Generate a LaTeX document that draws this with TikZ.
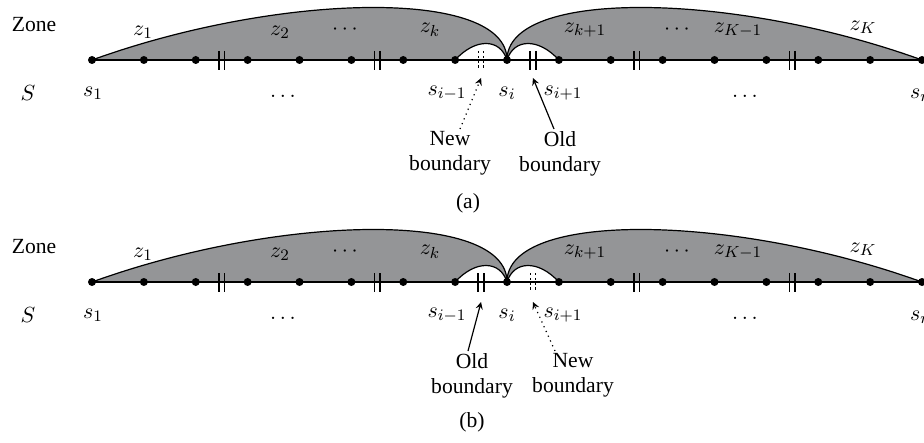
\documentclass[tikz,border=0pt]{standalone}
\usepackage{fontspec}
\setmainfont{Liberation Serif}
\usetikzlibrary{arrows}
\definecolor{zonegray}{RGB}{148,149,151}

\begin{document}
\begin{tikzpicture}[x=0.5pt,y=-0.5pt,font=\fontsize{10.8}{12.5}\selectfont,
    zoneline/.style={line width=0.6pt},
    note/.style={align=center,anchor=north,inner sep=1pt},
    oldmark/.pic={\draw[line width=0.8pt] (-2.8,-9) -- (-2.8,10) (2.8,-9) -- (2.8,10);},
    newmark/.pic={\draw[line width=0.6pt,dash pattern=on 1.2pt off 1.2pt] (-2.8,-9) -- (-2.8,10) (2.8,-9) -- (2.8,10);}]
\useasboundingbox (0,0) rectangle (924,443);
% both panels share the zones, the points and the labels
\foreach \p/\dy/\om/\nm in {a/0/8/7,b/222/7/8}{
  \begin{scope}[shift={(0,\dy)}]
    \foreach \k in {0,...,16}
      \coordinate (s\p\k) at ({92+51.875*\k},60);
    \foreach \k in {2,5,7,8,10,13}
      \coordinate (m\p\k) at ({92+51.875*(\k+0.5)},60);
    % zones
    \filldraw[zoneline,fill=zonegray] (s\p0) .. controls +(188,-68) and +(0,-72) .. (s\p8)
        .. controls +(0,-72) and +(-188,-68) .. (s\p16) -- cycle;
    \filldraw[zoneline,fill=white] (s\p7) .. controls +(20,-22) and +(-7,-22) .. (s\p8)
        .. controls +(7,-22) and +(-20,-22) .. (s\p9) -- cycle;
    \draw[zoneline] (s\p0) -- (s\p16);
    \foreach \k in {0,...,16}
      \fill (s\p\k) circle (2pt);
    % boundaries
    \foreach \k in {2,5,10,13,\om}
      \pic at (m\p\k) {oldmark};
    \pic at (m\p\nm) {newmark};
    % labels
    \node (zone\p) at (34,25) {Zone};
    \node (set\p) at (28,93) {$S$};
    \node (zfirst\p) at (143,32) {$z_1$};
    \node (zsecond\p) at (280,32) {$z_2$};
    \node (zdotsl\p) at (345,30) {$\cdots$};
    \node (zk\p) at (430,30) {$z_k$};
    \node (zkk\p) at (585,30) {$z_{k+1}$};
    \node (zdotsr\p) at (677,30) {$\cdots$};
    \node (zKm\p) at (738,30) {$z_{K-1}$};
    \node (zK\p) at (863,27) {$z_K$};
    \node (sfirst\p) at (93,93) {$s_1$};
    \node (sdotsl\p) at (283,96) {$\ldots$};
    \node (sprev\p) at (447,93) {$s_{i-1}$};
    \node (scur\p) at (507,93) {$s_i$};
    \node (snext\p) at (563,93) {$s_{i+1}$};
    \node (sdotsr\p) at (745,96) {$\ldots$};
    \node (slast\p) at (921,95) {$s_n$};
  \end{scope}
}
% panel (a)
\node[note] (newa) at (450,129) {New\\boundary};
\node[note] (olda) at (560,129) {Old\\boundary};
\node (capa) at (468,203) {(a)};
\draw[line width=0.6pt,dotted,-stealth] ([xshift=5pt]newa.north) -- ([yshift=-9pt]ma7);
\draw[line width=0.6pt,-stealth] ([xshift=-3pt]olda.north) -- ([yshift=-9pt]ma8);
% panel (b)
\node[note] (oldb) at (472,351) {Old\\boundary};
\node[note] (newb) at (573,351) {New\\boundary};
\node (capb) at (472,422) {(b)};
\draw[line width=0.6pt,-stealth] ([xshift=-2pt]oldb.north) -- ([yshift=-10pt]mb7);
\draw[line width=0.6pt,dotted,-stealth] ([xshift=-9pt]newb.north) -- ([yshift=-10pt]mb8);
\end{tikzpicture}
\end{document}
